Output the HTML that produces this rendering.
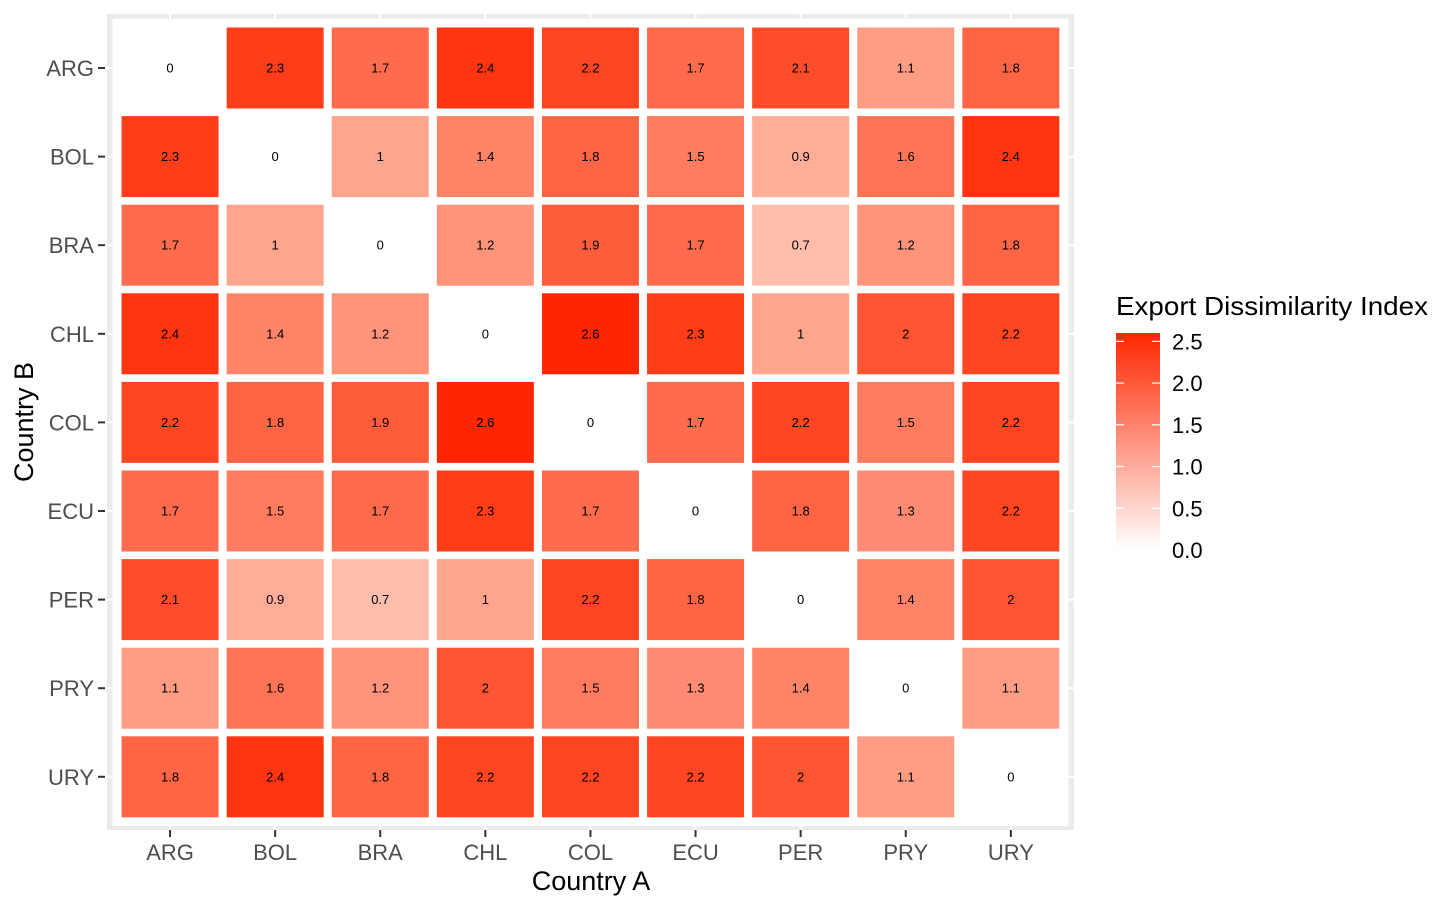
<!DOCTYPE html>
<html><head><meta charset="utf-8"><style>
html,body{margin:0;padding:0;background:#fff;}
svg{display:block;font-family:"Liberation Sans",Arial,sans-serif;}
</style></head><body>
<svg id="chart" width="1456" height="910" viewBox="0 0 1456 910">
<rect x="107" y="14" width="967" height="816" fill="#EBEBEB"/>
<g id="grid"></g>
<g id="tiles"></g>
<g id="xaxis"></g>
<g id="yaxis"></g>
<text x="591" y="890" text-anchor="middle" font-size="27" fill="#000">Country A</text>
<text transform="translate(33,422) rotate(-90)" text-anchor="middle" font-size="27" fill="#000">Country B</text>
<g>
<text x="1116" y="315" font-size="26" textLength="312" lengthAdjust="spacingAndGlyphs" fill="#000">Export Dissimilarity Index</text>
<defs><linearGradient id="lg" x1="0" y1="1" x2="0" y2="0"><stop offset="0" stop-color="#FFFFFF"/><stop offset="1" stop-color="#FF2600"/></linearGradient></defs>
<rect x="1116" y="333" width="44" height="217" fill="url(#lg)"/>
<g id="legend-ticks"></g>
</g>
</svg>
<script>
const colsA = ["ARG","BOL","BRA","CHL","COL","ECU","PER","PRY","URY"];
const rowsB = ["ARG","BOL","BRA","CHL","COL","ECU","PER","PRY","URY"];
const values = [
 [0,2.3,1.7,2.4,2.2,1.7,2.1,1.1,1.8],
 [2.3,0,1,1.4,1.8,1.5,0.9,1.6,2.4],
 [1.7,1,0,1.2,1.9,1.7,0.7,1.2,1.8],
 [2.4,1.4,1.2,0,2.6,2.3,1,2,2.2],
 [2.2,1.8,1.9,2.6,0,1.7,2.2,1.5,2.2],
 [1.7,1.5,1.7,2.3,1.7,0,1.8,1.3,2.2],
 [2.1,0.9,0.7,1,2.2,1.8,0,1.4,2],
 [1.1,1.6,1.2,2,1.5,1.3,1.4,0,1.1],
 [1.8,2.4,1.8,2.2,2.2,2.2,2,1.1,0]
];
const legendTicks = [0,0.5,1,1.5,2,2.5];
const legendLabels = ["0.0","0.5","1.0","1.5","2.0","2.5"];

const NS="http://www.w3.org/2000/svg";
const x0=117.5, dx=105.1, y0=23.7, dy=88.6;
const vmax=2.6;
function xPos(i){return x0+dx*(i+0.5);}
function yPos(j){return y0+dy*(j+0.5);}
function color(v){
  const f=Math.max(0,Math.min(1,v/vmax));
  const g=Math.round(255-(255-38)*Math.pow(f,0.92)), b=Math.round(255*(1-Math.pow(f,0.85)));
  return `rgb(255,${g},${b})`;
}
function mk(tag,attrs,parent){const e=document.createElementNS(NS,tag);for(const k in attrs)e.setAttribute(k,attrs[k]);parent.appendChild(e);return e;}

const grid=document.getElementById('grid');
colsA.forEach((c,i)=>{
  const l=mk('line',{x1:xPos(i),x2:xPos(i),y1:14,y2:830,stroke:'#fff','stroke-width':2},grid);
  
  
});
rowsB.forEach((r,j)=>{
  const l=mk('line',{x1:107,x2:1074,y1:yPos(j),y2:yPos(j),stroke:'#fff','stroke-width':2},grid);
  
  
});

const tiles=document.getElementById('tiles');
mk('rect',{x:x0-5,y:y0-5,width:dx*9+10,height:dy*9+10,fill:'#fff'},tiles);
values.forEach((row,j)=>{
  row.forEach((v,i)=>{
    const r=mk('rect',{x:xPos(i)-48.5,y:yPos(j)-40.5,width:97,height:81,fill:color(v)},tiles);
    
    
    const t=mk('text',{x:xPos(i),y:yPos(j)+4.5,'text-anchor':'middle','font-size':13,fill:'#000'},tiles);
    t.textContent=String(v);
    
    
  });
});

const xa=document.getElementById('xaxis');
colsA.forEach((c,i)=>{
  const tk=mk('line',{x1:xPos(i),x2:xPos(i),y1:830,y2:837,stroke:'#333','stroke-width':2},xa);
  
  
  const t=mk('text',{x:xPos(i),y:860,'text-anchor':'middle','font-size':22,fill:'#4D4D4D'},xa);
  t.textContent=c;
  
  
});
const ya=document.getElementById('yaxis');
rowsB.forEach((r,j)=>{
  const tk=mk('line',{x1:98,x2:105,y1:yPos(j),y2:yPos(j),stroke:'#333','stroke-width':2},ya);
  
  
  const t=mk('text',{x:94,y:yPos(j)+8,'text-anchor':'end','font-size':22,fill:'#4D4D4D'},ya);
  t.textContent=r;
  
  
});

const lt=document.getElementById('legend-ticks');
const lbot=550, lscale=217/2.6;
legendTicks.forEach((v,k)=>{
  const y=lbot-v*lscale;
  if(v>0){
    mk('line',{x1:1116,x2:1124,y1:y,y2:y,stroke:'#fff','stroke-width':1.2},lt);
    mk('line',{x1:1152,x2:1160,y1:y,y2:y,stroke:'#fff','stroke-width':1.2},lt);
  }
  const t=mk('text',{x:1172,y:y+8,'font-size':22,fill:'#000'},lt);
  t.textContent=legendLabels[k];
  
  
});
</script>
</body></html>
